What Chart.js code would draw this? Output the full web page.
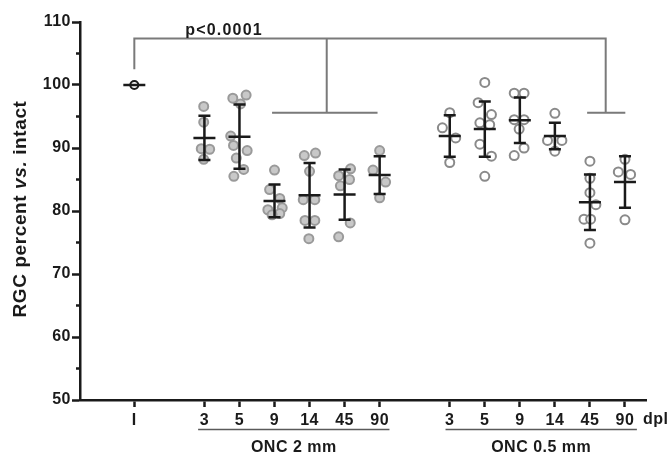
<!DOCTYPE html>
<html>
<head>
<meta charset="utf-8">
<script src="https://cdn.jsdelivr.net/npm/chart.js@4.4.1/dist/chart.umd.min.js"></script>
<style>
  html, body { margin: 0; padding: 0; background: #fff; }
  #wrap { width: 670px; height: 455px; position: relative; }
</style>
</head>
<body>
<div id="wrap"><canvas id="rgcChart"></canvas></div>
<script>
// x slots on the axis and their tick labels
const xSlots = [0, 2, 3, 4, 5, 6, 7, 9, 10, 11, 12, 13, 14];
const xLabels = ['I', '3', '5', '9', '14', '45', '90', '3', '5', '9', '14', '45', '90'];

// intact retina
const intactValues = [100];
const intactMean = 100;

// ONC 2 mm from the optic disc, days post lesion 3..90
const onc2Slots = [2, 3, 4, 5, 6, 7];
const onc2Values = [
  [96.6, 94.1, 89.9, 89.8, 88.2],
  [98.4, 97.9, 97.0, 91.9, 90.4, 89.6, 88.4, 86.6, 85.5],
  [86.5, 83.4, 82.0, 80.5, 80.2, 79.6, 79.4],
  [88.8, 89.2, 86.3, 81.8, 81.8, 78.5, 78.5, 75.6],
  [86.7, 85.6, 85.0, 84.0, 78.1, 75.9],
  [89.6, 86.5, 84.6, 82.1]
];
const onc2Jitter = [
  [-0.02, -0.02, -0.09, 0.15, -0.02],
  [0.19, -0.19, 0.03, -0.25, -0.17, 0.22, -0.09, 0.12, -0.16],
  [0, -0.14, 0.15, 0.22, -0.19, 0.15, -0.07],
  [-0.15, 0.17, 0, -0.18, 0.15, -0.13, 0.15, -0.02],
  [0.17, -0.17, 0.14, -0.12, 0.16, -0.17],
  [0, -0.19, 0.17, 0]
];
const onc2Mean = [91.6, 91.8, 81.6, 82.5, 82.6, 85.7];
const onc2Sd = [3.5, 5.1, 2.6, 5.1, 4.0, 3.0];

// ONC 0.5 mm from the optic disc
const onc05Slots = [9, 10, 11, 12, 13, 14];
const onc05Values = [
  [95.6, 93.2, 91.6, 87.7],
  [100.4, 97.2, 95.3, 94.0, 93.7, 90.6, 88.7, 85.5],
  [98.7, 98.7, 94.5, 94.5, 93.0, 90.0, 88.8],
  [95.5, 91.2, 91.2, 89.5],
  [87.9, 85.2, 82.9, 81.0, 78.7, 78.7, 74.9],
  [88.2, 86.2, 85.8, 78.6]
];
const onc05Jitter = [
  [0, -0.21, 0.17, 0],
  [0, -0.19, 0.19, -0.14, 0.14, -0.14, 0.19, 0],
  [-0.16, 0.12, -0.16, 0.12, -0.02, 0.12, -0.16],
  [0, -0.21, 0.2, 0],
  [0, 0, 0, 0.17, -0.17, 0.02, 0],
  [0, -0.19, 0.16, 0]
];
const onc05Mean = [91.9, 93.0, 94.4, 91.9, 81.4, 84.6];
const onc05Sd = [3.3, 4.4, 3.6, 2.1, 4.4, 4.1];

const pText = 'p<0.0001';

function toPoints(slots, values, jitter) {
  const pts = [];
  slots.forEach((s, i) => {
    values[i].forEach((v, j) => pts.push({ x: s + jitter[i][j], y: v }));
  });
  return pts;
}

const FONT = '"Liberation Sans", Arial, sans-serif';
const INK = '#1a1a1a';

// error bars, significance bracket, extra labels
const figurePlugin = {
  id: 'figureExtras',
  beforeDraw(chart) {
    chart.ctx.letterSpacing = '0.5px';
  },
  afterDatasetsDraw(chart) {
    const { ctx, chartArea, scales: { x, y } } = chart;
    ctx.save();

    // mean +/- SD bars
    const bars = [{ s: 0, m: intactMean, sd: 0 }];
    onc2Slots.forEach((s, i) => bars.push({ s, m: onc2Mean[i], sd: onc2Sd[i] }));
    onc05Slots.forEach((s, i) => bars.push({ s, m: onc05Mean[i], sd: onc05Sd[i] }));
    ctx.strokeStyle = INK;
    ctx.lineWidth = 2.5;
    bars.forEach(b => {
      const px = x.getPixelForValue(b.s);
      const pm = y.getPixelForValue(b.m);
      ctx.beginPath();
      ctx.moveTo(px - 11, pm); ctx.lineTo(px + 11, pm);
      if (b.sd > 0) {
        const top = y.getPixelForValue(b.m + b.sd);
        const bot = y.getPixelForValue(b.m - b.sd);
        ctx.moveTo(px, top); ctx.lineTo(px, bot);
        ctx.moveTo(px - 6, top); ctx.lineTo(px + 6, top);
        ctx.moveTo(px - 6, bot); ctx.lineTo(px + 6, bot);
      }
      ctx.stroke();
    });

    // bracket
    const yTop = y.getPixelForValue(107.4);
    const yFoot = y.getPixelForValue(95.6);
    const xI = x.getPixelForValue(0);
    ctx.strokeStyle = '#7a7a7a';
    ctx.lineWidth = 2;
    ctx.beginPath();
    ctx.moveTo(xI, y.getPixelForValue(102.5));
    ctx.lineTo(xI, yTop);
    ctx.lineTo(x.getPixelForValue(13.45), yTop);
    ctx.lineTo(x.getPixelForValue(13.45), yFoot);
    ctx.moveTo(x.getPixelForValue(5.49), yTop);
    ctx.lineTo(x.getPixelForValue(5.49), yFoot);
    ctx.moveTo(x.getPixelForValue(3.93), yFoot);
    ctx.lineTo(x.getPixelForValue(6.94), yFoot);
    ctx.moveTo(x.getPixelForValue(12.92), yFoot);
    ctx.lineTo(x.getPixelForValue(14.01), yFoot);
    ctx.stroke();

    ctx.fillStyle = INK;
    ctx.font = 'bold 16px ' + FONT;
    ctx.letterSpacing = '1.2px';
    ctx.textAlign = 'center';
    ctx.textBaseline = 'alphabetic';
    ctx.fillText(pText, x.getPixelForValue(2.56), yTop - 3);
    ctx.letterSpacing = '0.5px';

    // minor y ticks
    ctx.strokeStyle = INK;
    ctx.lineWidth = 2.5;
    ctx.beginPath();
    for (let v = 55; v < 110; v += 10) {
      const py = y.getPixelForValue(v);
      ctx.moveTo(chartArea.left - 4, py);
      ctx.lineTo(chartArea.left, py);
    }
    ctx.stroke();

    // dpl unit
    ctx.textAlign = 'left';
    ctx.textBaseline = 'middle';
    ctx.fillText('dpl', chartArea.right - 3, chartArea.bottom + 20);

    // group underlines and labels
    const groups = [
      { a: 1.82, b: 7.28, label: 'ONC 2 mm' },
      { a: 8.88, b: 14.34, label: 'ONC 0.5 mm' }
    ];
    groups.forEach(g => {
      const xa = x.getPixelForValue(g.a), xb = x.getPixelForValue(g.b);
      ctx.strokeStyle = '#5a5a5a';
      ctx.lineWidth = 1.5;
      ctx.beginPath();
      ctx.moveTo(xa, chartArea.bottom + 29.5);
      ctx.lineTo(xb, chartArea.bottom + 29.5);
      ctx.stroke();
      ctx.textAlign = 'center';
      ctx.fillText(g.label, (xa + xb) / 2, chartArea.bottom + 48);
    });

    // y axis title with italic "vs."
    ctx.letterSpacing = '0.6px';
    const parts = [
      { t: 'RGC percent ', f: 'bold 19px ' + FONT },
      { t: 'vs.', f: 'italic bold 19px ' + FONT },
      { t: ' intact', f: 'bold 19px ' + FONT }
    ];
    let total = 0;
    parts.forEach(p => { ctx.font = p.f; p.w = ctx.measureText(p.t).width; total += p.w; });
    ctx.translate(21, (chartArea.top + chartArea.bottom) / 2 - 2);
    ctx.rotate(-Math.PI / 2);
    ctx.textAlign = 'left';
    let cx = -total / 2;
    parts.forEach(p => { ctx.font = p.f; ctx.fillText(p.t, cx, 0); cx += p.w; });

    ctx.restore();
  }
};

function initializeRgcChart() {
  const ctx = document.getElementById('rgcChart');
  if (!ctx) return;

  new Chart(ctx, {
    type: 'scatter',
    data: {
      datasets: [
        {
          label: 'ONC 2 mm',
          data: toPoints(onc2Slots, onc2Values, onc2Jitter),
          backgroundColor: '#c8c8c8',
          borderColor: '#9a9a9a',
          borderWidth: 2,
          pointRadius: 4.5
        },
        {
          label: 'ONC 0.5 mm',
          data: toPoints(onc05Slots, onc05Values, onc05Jitter),
          backgroundColor: '#ffffff',
          borderColor: '#8a8a8a',
          borderWidth: 2,
          pointRadius: 4.5
        },
        {
          label: 'Intact',
          data: intactValues.map(v => ({ x: 0, y: v })),
          backgroundColor: '#ffffff',
          borderColor: INK,
          borderWidth: 2,
          pointRadius: 4
        }
      ]
    },
    options: {
      responsive: true,
      maintainAspectRatio: false,
      animation: false,
      layout: { padding: { top: 22, right: 24, bottom: 0, left: 0 } },
      plugins: {
        legend: { display: false },
        tooltip: { enabled: false }
      },
      scales: {
        x: {
          type: 'linear',
          min: -1.55,
          max: 14.6,
          afterBuildTicks: s => { s.ticks = xSlots.map(v => ({ value: v })); },
          afterFit: s => { s.height = 55; },
          ticks: {
            autoSkip: false,
            maxRotation: 0,
            padding: 4,
            color: INK,
            font: { family: FONT, size: 16, weight: 'bold' },
            callback: v => {
              const i = xSlots.indexOf(v);
              return i >= 0 ? xLabels[i] : '';
            }
          },
          grid: { drawOnChartArea: false, tickLength: 7, tickWidth: 2.5, tickColor: INK },
          border: { color: INK, width: 2.5 }
        },
        y: {
          min: 50,
          max: 110,
          afterFit: s => { s.width = 80; },
          ticks: {
            stepSize: 5,
            padding: 1,
            color: INK,
            font: { family: FONT, size: 16, weight: 'bold' },
            callback: v => (v % 10 === 0 ? v : '')
          },
          grid: {
            drawOnChartArea: false,
            tickLength: 8,
            tickWidth: 2.5,
            tickColor: c => (c.tick && c.tick.value % 10 === 0 ? INK : 'rgba(0,0,0,0)')
          },
          border: { color: INK, width: 2.5 }
        }
      }
    },
    plugins: [figurePlugin]
  });
}

document.addEventListener('DOMContentLoaded', () => {
  initializeRgcChart();
});
</script>
</body>
</html>
